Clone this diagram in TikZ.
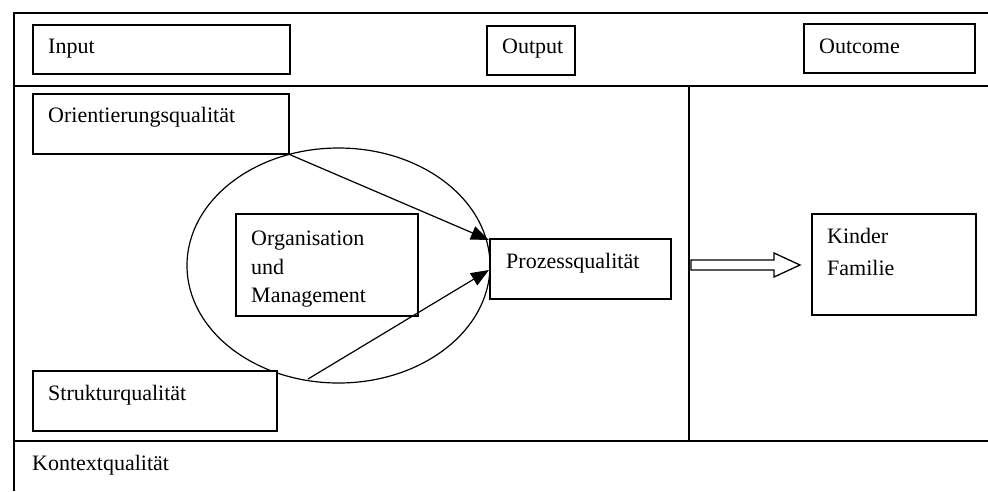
\documentclass[tikz,border=0pt]{standalone}
\usepackage{fontspec}
\setmainfont{Liberation Serif}
\usetikzlibrary{arrows.meta}
\begin{document}
\begin{tikzpicture}[x=1pt,y=-1pt,
  frame/.style={line width=2pt},
  box/.style={draw,line width=1.5pt,inner sep=0pt,anchor=north west},
  lbl/.style={anchor=base west,inner sep=0pt,font=\fontsize{22}{26}\selectfont},
  conn/.style={line width=1.2pt,-{Triangle[length=18pt,width=14pt]}}]
\useasboundingbox (0,0) rectangle (988,491);
% frame
\draw[frame] (988,13) -- (14,13) -- (14,491);
\draw[frame] (14,86) -- (988,86);
\draw[frame] (14,441) -- (988,441);
\draw[frame] (689,86) -- (689,441);
% top boxes
\node[box,minimum width=257pt,minimum height=49pt] (input) at (32,24) {};
\node[lbl] (inputT) at (48,53) {Input};
\node[box,minimum width=88pt,minimum height=49pt] (output) at (486,25) {};
\node[lbl] (outputT) at (502,53) {Output};
\node[box,minimum width=171pt,minimum height=49pt] (outcome) at (803,23) {};
\node[lbl] (outcomeT) at (819,53) {Outcome};
% ellipse
\draw[line width=1.2pt] (338.5,265.5) ellipse [x radius=151.5, y radius=117.5];
% boxes
\node[box,fill=white,minimum width=256pt,minimum height=60pt] (orient) at (32,93) {};
\node[lbl] (orientT) at (48,122) {Orientierungsqualität};
\node[box,minimum width=182pt,minimum height=102pt] (orga) at (235,213) {};
\node[lbl,align=left] (orgaT1) at (251,245) {Organisation};
\node[lbl] (orgaT2) at (251,274) {und};
\node[lbl] (orgaT3) at (251,302) {Management};
\node[box,fill=white,minimum width=181pt,minimum height=60pt] (proz) at (489,238) {};
\node[lbl] (prozT) at (506,268) {Prozessqualität};
\node[box,fill=white,minimum width=244pt,minimum height=60pt] (struk) at (32,370) {};
\node[lbl] (strukT) at (48,400) {Strukturqualität};
\node[box,minimum width=164pt,minimum height=101pt] (kinder) at (811,213) {};
\node[lbl] (kinderT) at (827,243) {Kinder};
\node[lbl] (familieT) at (827,275) {Familie};
\node[lbl] (kontextT) at (32,470) {Kontextqualität};
% connectors
\draw[conn] (orient.south east) -- ([yshift=-2pt]proz.north west);
\draw[conn] ([xshift=276pt,yshift=-9pt]struk.north west) -- ([yshift=-32pt]proz.north west);
% hollow arrow
\draw[line width=1.3pt,fill=white,line join=miter]
  (691,260) -- (774,260) -- (774,253) -- (800,265) -- (774,277) -- (774,270) -- (691,270) -- cycle;
\end{tikzpicture}
\end{document}
